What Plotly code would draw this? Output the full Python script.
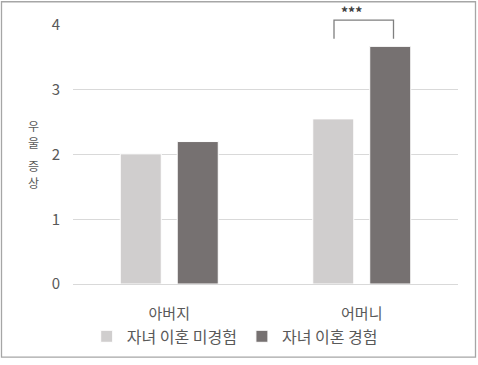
import plotly.graph_objects as go

categories = ["아버지", "어머니"]
series_names = ["자녀 이혼 미경험", "자녀 이혼 경험"]
no_divorce = [2.01, 2.55]
divorce = [2.20, 3.67]
y_ticks = [0, 1, 2, 3, 4]
y_title_chars = ["우", "울", "증", "상"]
colors = ["#D0CECE", "#767171"]

FONT = "Noto Sans CJK KR"
TXT = "#595959"

# plot area geometry in pixels (for paper-coordinate decorations)
L, R, T, B = 73, 20, 25, 78
W, H = 478, 365
PW, PH = W - L - R, H - T - B


def px_x(x):
    return (x - L) / PW


def px_y(y):
    return (H - B - y) / PH


fig = go.Figure()
for name, vals, col in zip(series_names, [no_divorce, divorce], colors):
    fig.add_trace(go.Bar(
        x=categories, y=vals, name=name,
        marker=dict(color=col, line=dict(color="#FFFFFF", width=1)),
    ))

# significance bracket between the two 어머니 bars
bx0, bx1 = px_x(334), px_x(393.5)
by_top, by_bot = px_y(20), px_y(39)
fig.add_shape(type="path", xref="paper", yref="paper",
              path=f"M {bx0} {by_bot} L {bx0} {by_top} L {bx1} {by_top} L {bx1} {by_bot}",
              line=dict(color="#7F7F7F", width=1.3))
fig.add_annotation(x=(bx0 + bx1) / 2, y=px_y(12), xref="paper", yref="paper", text="<b>***</b>",
                   showarrow=False, yanchor="middle",
                   font=dict(family=FONT, size=14, color="#404040"))

# vertical (upright, stacked) y-axis title
for ch, yc in zip(y_title_chars, [127, 144, 167, 184]):
    fig.add_annotation(x=px_x(33), y=px_y(yc), xref="paper", yref="paper", text=ch,
                       showarrow=False, xanchor="center", yanchor="middle", borderpad=0,
                       font=dict(family=FONT, size=12, color=TXT))

# outer frame
fig.add_shape(type="rect", xref="paper", yref="paper",
              x0=px_x(1.5), x1=px_x(475.5), y0=px_y(361), y1=px_y(1.5),
              line=dict(color="#A6A6A6", width=1.3), fillcolor="rgba(0,0,0,0)", layer="below")

fig.update_layout(
    width=W, height=H,
    margin=dict(l=L, r=R, t=T, b=B),
    paper_bgcolor="white", plot_bgcolor="white",
    barmode="group", bargap=0.408, bargroupgap=0.28,
    font=dict(family=FONT, color=TXT),
    showlegend=True,
    legend=dict(orientation="h", x=0.42, xanchor="center", y=px_y(340), yanchor="middle",
                font=dict(family=FONT, size=16, color=TXT), itemwidth=30,
                bgcolor="rgba(0,0,0,0)"),
    xaxis=dict(showgrid=False, showline=True, linecolor="#D9D9D9", linewidth=1,
               ticklabelstandoff=16,
               tickfont=dict(family=FONT, size=15, color=TXT), ticks=""),
    yaxis=dict(range=[0, 4], tickvals=y_ticks, showgrid=True, gridcolor="#D9D9D9",
               gridwidth=1, zeroline=False, showline=False, ticks="",
               ticklabelstandoff=12,
               tickfont=dict(family=FONT, size=15, color=TXT)),
)

fig.write_html("out.html")
